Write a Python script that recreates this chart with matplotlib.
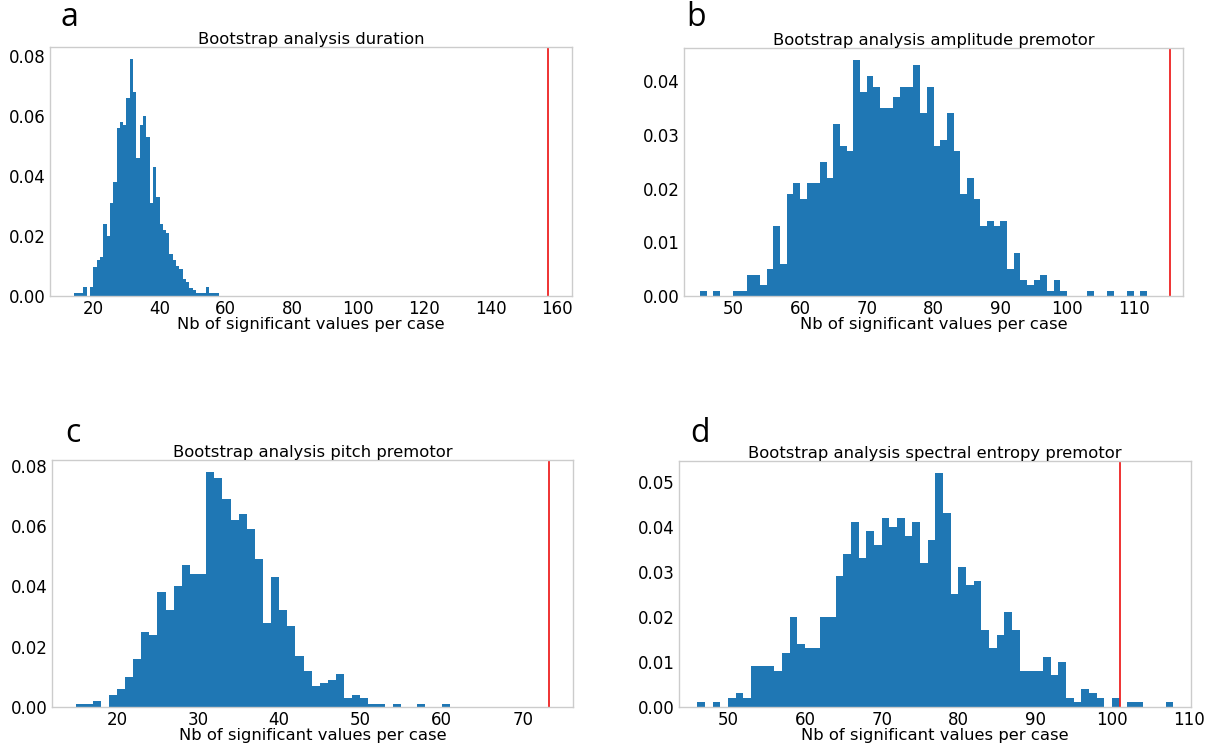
import numpy as np
import matplotlib
matplotlib.use("Agg")
import matplotlib.pyplot as plt

# ---------------- data (density per integer bin) ----------------
dur_start = 14
dur_density = [0.001, 0.001, 0.001, 0.003, 0.0, 0.003, 0.0095, 0.012, 0.013, 0.024,
               0.020, 0.031, 0.038, 0.056, 0.058, 0.057, 0.066, 0.079, 0.068, 0.046,
               0.057, 0.060, 0.053, 0.031, 0.043, 0.033, 0.024, 0.022, 0.021, 0.014,
               0.012, 0.010, 0.009, 0.0055, 0.0045, 0.0025, 0.002, 0.001, 0.001, 0.001,
               0.003, 0.001, 0.001, 0.001]
dur_observed = 157.5

amp_start = 45
amp_density = [0.001, 0.0, 0.001, 0.0, 0.0, 0.001, 0.001, 0.004, 0.004, 0.002,
               0.005, 0.013, 0.006, 0.019, 0.021, 0.018, 0.021, 0.021, 0.025, 0.022,
               0.032, 0.028, 0.027, 0.044, 0.038, 0.041, 0.039, 0.035, 0.035, 0.037,
               0.039, 0.039, 0.043, 0.034, 0.039, 0.028, 0.029, 0.034, 0.027, 0.019,
               0.022, 0.018, 0.013, 0.014, 0.013, 0.014, 0.005, 0.008, 0.003, 0.002,
               0.003, 0.004, 0.001, 0.003, 0.001, 0.0, 0.0, 0.0, 0.001, 0.0,
               0.0, 0.001, 0.0, 0.0, 0.001, 0.0, 0.001]
amp_observed = 115.5

pitch_start = 15
pitch_density = [0.001, 0.001, 0.002, 0.0, 0.004, 0.006, 0.010, 0.016, 0.025, 0.024,
                 0.038, 0.032, 0.040, 0.047, 0.044, 0.044, 0.078, 0.076, 0.069, 0.062,
                 0.064, 0.059, 0.049, 0.028, 0.043, 0.032, 0.027, 0.017, 0.012, 0.007,
                 0.008, 0.009, 0.011, 0.003, 0.004, 0.003, 0.001, 0.001, 0.0, 0.001,
                 0.0, 0.0, 0.001, 0.0, 0.0, 0.001]
pitch_observed = 73.3

ent_start = 46
ent_density = [0.001, 0.0, 0.001, 0.0, 0.002, 0.003, 0.002, 0.009, 0.009, 0.009,
               0.008, 0.012, 0.020, 0.014, 0.013, 0.013, 0.020, 0.020, 0.029, 0.034,
               0.041, 0.033, 0.039, 0.036, 0.042, 0.040, 0.042, 0.038, 0.041, 0.032,
               0.037, 0.052, 0.043, 0.025, 0.031, 0.027, 0.028, 0.017, 0.013, 0.016,
               0.021, 0.017, 0.008, 0.008, 0.008, 0.011, 0.007, 0.010, 0.002, 0.001,
               0.004, 0.003, 0.002, 0.0, 0.002, 0.0, 0.001, 0.001, 0.0, 0.0,
               0.0, 0.001]
ent_observed = 101.0

titles = ["Bootstrap analysis duration",
          "Bootstrap analysis amplitude premotor",
          "Bootstrap analysis pitch premotor",
          "Bootstrap analysis spectral entropy premotor"]
xlabel = "Nb of significant values per case"
letters = ["a", "b", "c", "d"]

panels = [(dur_start, dur_density, dur_observed),
          (amp_start, amp_density, amp_observed),
          (pitch_start, pitch_density, pitch_observed),
          (ent_start, ent_density, ent_observed)]

# ---------------- layout ----------------
W, H = 1215, 746
# axes boxes in pixels: left, top, right, bottom
boxes = [(50, 47, 572, 296), (684, 48, 1183, 296),
         (52, 460, 573, 707), (679, 461, 1191, 707)]
xlims = [(6.9, 164.6), (42.6, 117.4), (12.0, 76.2), (43.6, 110.3)]
letter_pos = [(60, 18), (686, 18), (65, 433), (690, 433)]

fig = plt.figure(figsize=(W / 100, H / 100), dpi=100)
plt.rcParams["font.family"] = ["DejaVu Sans"]

for i, ((start, dens, obs), (l, t, r, b)) in enumerate(zip(panels, boxes)):
    ax = fig.add_axes([l / W, 1 - b / H, (r - l) / W, (b - t) / H])
    dens = np.asarray(dens, dtype=float)
    edges = np.arange(start, start + len(dens) + 1)
    centers = edges[:-1] + 0.5
    ax.hist(centers, bins=edges, weights=dens, color="#1f77b4",
            histtype="stepfilled", linewidth=0)
    ax.axvline(obs, color="#ee2222", lw=1.3)
    ax.set_xlim(*xlims[i])
    ax.set_ylim(0, max(dens) * 1.05)
    ax.set_title(titles[i], fontsize=11.8, pad=2)
    ax.set_xlabel(xlabel, fontsize=11.8, labelpad=-1)
    ax.tick_params(length=0, labelsize=12, pad=3)
    ax.yaxis.set_major_formatter(matplotlib.ticker.FormatStrFormatter("%.2f"))
    for s in ax.spines.values():
        s.set_color("#cccccc")
        s.set_linewidth(1.0)
    lx, ly = letter_pos[i]
    fig.text(lx / W, 1 - ly / H, letters[i], fontsize=23, family="Open Sans",
             ha="left", va="center")

fig.savefig("out.png", dpi=100)
